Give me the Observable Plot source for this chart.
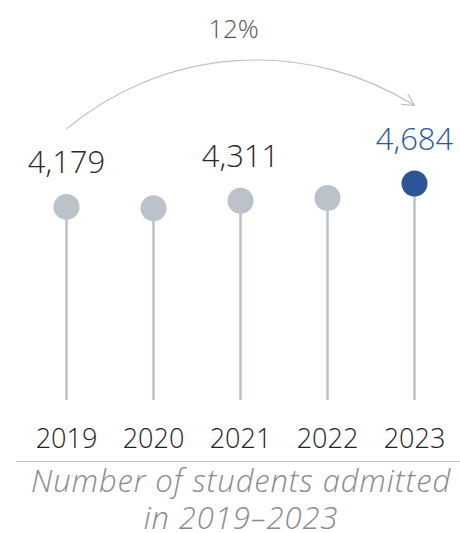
<!DOCTYPE html>
<html>
<head>
<meta charset="utf-8">
<script src="https://cdn.jsdelivr.net/npm/d3@7"></script>
<script src="https://cdn.jsdelivr.net/npm/@observablehq/plot@0.6"></script>
<style>
  html, body { margin: 0; padding: 0; background: #fff; }
  body { width: 460px; font-family: "Open Sans", sans-serif; }
  #chart svg { display: block; font-family: "Open Sans", sans-serif; }
  #caption {
    margin-left: 16px;
    width: 444px;
    border-top: 1.5px solid #c4c4c4;
    text-align: center;
    font-style: italic;
    font-weight: 300;
    font-size: 31px;
    line-height: 37px;
    letter-spacing: 0.9px;
    color: #8a8a8a;
    padding-top: 0px;
    padding-left: 6px;
    box-sizing: border-box;
    white-space: nowrap;
  }
</style>
</head>
<body>
<div id="chart"></div>
<div id="caption">Number of students admitted<br>in 2019–2023</div>
<script>
const years = ["2019", "2020", "2021", "2022", "2023"];
const admitted = [4179, 4150, 4311, 4370, 4684];
const labelledYears = ["2019", "2021", "2023"];
const highlightYear = "2023";

const data = years.map((year, i) => ({year, value: admitted[i], highlight: year === highlightYear}));
const labelled = data.filter(d => labelledYears.includes(d.year));
const first = data[0], last = data[data.length - 1];
const pct = Math.round((last.value - first.value) / first.value * 100) + "%";

const grey = "#bcc2ca";
const blue = "#2c5597";

const chart = Plot.plot({
  width: 460,
  height: 461,
  marginTop: 183,
  marginBottom: 61,
  marginLeft: 66,
  marginRight: 46,
  x: {type: "point", domain: years, padding: 0, label: null},
  y: {domain: [0, d3.max(admitted)], axis: null},
  style: {fontFamily: "'Open Sans', sans-serif", overflow: "visible"},
  marks: [
    Plot.axisX({tickSize: 0, tickPadding: 28, fontSize: 27, fontWeight: 300, fill: "#222", label: null}),
    Plot.ruleX(data, {x: "year", y1: 0, y2: "value", stroke: grey, strokeWidth: 2.5}),
    Plot.dot(data, {x: "year", y: "value", r: 13, fill: d => d.highlight ? blue : grey, stroke: null}),
    Plot.text(labelled, {x: "year", y: "value", text: d => d3.format(",")(d.value), dy: -34, lineAnchor: "bottom", fontSize: 31, fontWeight: 300, fill: d => d.highlight ? blue : "#2a2a2a"}),
    Plot.arrow([{x1: first.year, y1: first.value, x2: last.year, y2: last.value}], {
      x1: "x1", y1: "y1", x2: "x2", y2: "y2", dy: -78, bend: 36,
      stroke: "#b9c1cc", strokeWidth: 1.2, headLength: 16, headAngle: 55
    }),
    Plot.text([{x: "2021", y: last.value, t: pct}], {x: "x", y: "y", text: "t", dy: -146, dx: -7, lineAnchor: "bottom", fontSize: 26, fontWeight: 300, fill: "#555"})
  ]
});
document.getElementById("chart").appendChild(chart);
</script>
</body>
</html>
